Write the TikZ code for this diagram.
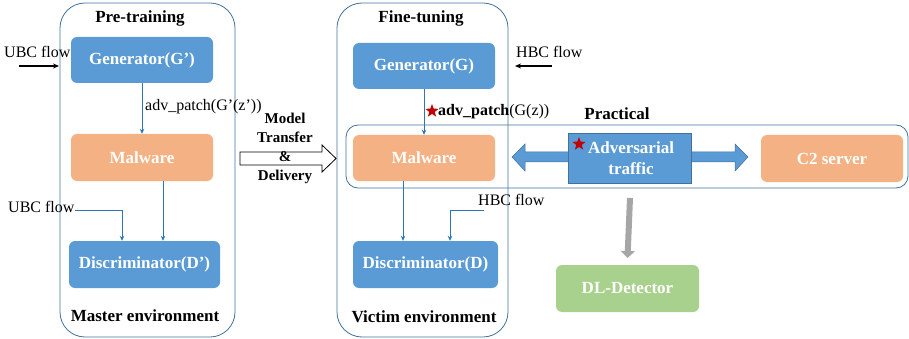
\documentclass[tikz,border=0pt]{standalone}
\usepackage{fontspec}
\setmainfont{Liberation Serif}
\usetikzlibrary{arrows.meta,shapes.geometric}
\definecolor{boxblue}{HTML}{5B9BD5}
\definecolor{boxorange}{HTML}{F4B183}
\definecolor{boxgreen}{HTML}{A9D18E}
\definecolor{envline}{HTML}{41719C}
\definecolor{lineblue}{HTML}{2E75B6}
\definecolor{starred}{HTML}{C00000}
\begin{document}
\begin{tikzpicture}[x=1pt,y=-1pt,
  box/.style={rounded corners=6pt, text=white, font=\fontsize{17}{19}\selectfont\bfseries, inner sep=0pt},
  bluebox/.style={box, fill=boxblue},
  orangebox/.style={box, fill=boxorange},
  greenbox/.style={box, fill=boxgreen},
  env/.style={draw=envline, line width=0.8pt, rounded corners=25pt},
  title/.style={font=\fontsize{17}{19}\selectfont\bfseries, inner sep=0pt},
  lbl/.style={font=\fontsize{16}{18}\selectfont, inner sep=0pt},
  flow/.style={draw=lineblue, line width=0.8pt, -{Stealth[length=5pt,width=4.5pt]}},
  blackflow/.style={draw=black, line width=1.1pt, -{Stealth[length=6pt,width=5pt]}},
  redstar/.style={star, star points=5, star point ratio=2.4, fill=starred, inner sep=0pt, minimum size=14pt}
]
\useasboundingbox (0,0) rectangle (909,339);

% environments
\draw[env] (60,3) rectangle (235,337);
\draw[env] (337,3) rectangle (508,337);
\draw[draw=envline, line width=0.8pt, rounded corners=12pt] (346,125) rectangle (908,188);

\node[title] (pre) at (140,18) {Pre-training};
\node[title] (master) at (145,316) {Master environment};
\node[title] (fine) at (421,18) {Fine-tuning};
\node[title] (victim) at (424,317) {Victim environment};
\node[title] (prac) at (617,114) {Practical};

% left column
\node[bluebox, minimum width=142pt, minimum height=46pt] (genL) at (142,60) {Generator(G’)};
\node[orangebox, minimum width=142pt, minimum height=47pt] (malL) at (142,157.5) {Malware};
\node[bluebox, minimum width=151pt, minimum height=47pt] (dL) at (144.5,264.5) {Discriminator(D’)};

\node[lbl, anchor=west] (ubcA) at (4,52) {UBC flow};
\coordinate (ubcAs) at (19,66);
\coordinate (ubcAe) at (59,66);
\draw[blackflow] (ubcAs) -- (ubcAe);

\node[lbl, anchor=west] (advL) at (145,107) {adv\_patch(G’(z’))};
\draw[flow] (genL.south) -- (malL.north);
\draw[flow] ([xshift=21pt]malL.south) -- ([xshift=21pt]malL.south |- dL.north);

\node[lbl, anchor=west] (ubcB) at (8,207) {UBC flow};
\coordinate (ubcBs) at (75,210);
\draw[flow] (ubcBs) -| ([xshift=-22.5pt]dL.north);

% transfer arrow
\draw[line width=0.8pt, fill=white] (240,152) -- (322,152) -- (322,145) -- (336,158.5) -- (322,172) -- (322,165) -- (240,165) -- cycle;
\node[font=\fontsize{15}{19}\selectfont\bfseries, align=center, inner sep=0pt] (mtd) at (285,148.5) {Model\\Transfer\\\&\\Delivery};

% middle column
\node[bluebox, minimum width=142pt, minimum height=46pt] (genM) at (424,66) {Generator(G)};
\node[orangebox, minimum width=142pt, minimum height=46pt] (malM) at (424,158) {Malware};
\node[bluebox, minimum width=145pt, minimum height=47pt] (dM) at (425.5,264.5) {Discriminator(D)};

\node[lbl, anchor=west] (hbcA) at (516,52) {HBC flow};
\coordinate (hbcAs) at (552,66);
\coordinate (hbcAe) at (515,66);
\draw[blackflow] (hbcAs) -- (hbcAe);

\node[redstar] (starA) at (432,111) {};
\node[lbl, anchor=west] (advM) at (438,112) {\textbf{adv\_patch}(G(z))};
\draw[flow] (genM.south) -- (malM.north);
\draw[flow] ([xshift=-21pt]malM.south) -- ([xshift=-21pt]malM.south |- dM.north);

\node[lbl, anchor=west] (hbcB) at (478,200) {HBC flow};
\coordinate (hbcBs) at (484,210);
\draw[flow] (hbcBs) -| ([xshift=24.5pt]dM.north);

% practical
\fill[boxblue, draw=envline, line width=0.5pt] (512,157) -- (525,144) -- (525,152) -- (735,152) -- (735,144) -- (748,157) -- (735,171) -- (735,162) -- (525,162) -- (525,171) -- cycle;
\node[draw=envline, fill=boxblue, line width=0.5pt, minimum width=123pt, minimum height=50pt, inner sep=0pt] (adv) at (629.5,158) {};
\node[font=\fontsize{17}{21}\selectfont\bfseries, text=white, align=center, inner sep=0pt] (advtxt) at (631,158.5) {Adversarial\\traffic};
\node[redstar] (starB) at (579,144) {};

\node[orangebox, minimum width=142pt, minimum height=47pt] (c2) at (832,158.5) {C2 server};

\node[greenbox, minimum width=143pt, minimum height=47pt] (dl) at (627.5,288.5) {DL-Detector};
\draw[draw=gray!70, line width=6pt, -{Triangle[length=7pt,width=14pt]}] (630,198) -- (dl.north |- 0,258);

\end{tikzpicture}
\end{document}
